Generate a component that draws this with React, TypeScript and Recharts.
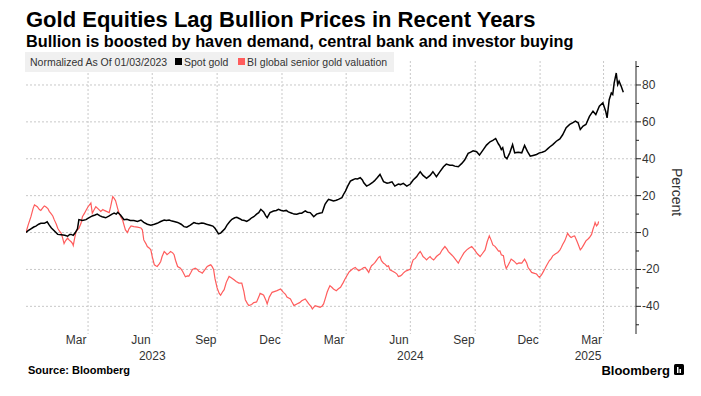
import React from 'react';
import { LineChart, Line, XAxis, YAxis, CartesianGrid } from 'recharts';

const FONT = '"Liberation Sans", Arial, sans-serif';

// days since 2023-01-03 (normalisation date)
const goldDays = [0,3,7,11,14,18,21,26,30,33,36,40,45,50,55,59,62,64,67,70,73,75,80,85,89,94,98,101,105,108,113,118,122,125,128,130,134,139,143,148,153,158,163,167,172,177,182,186,191,196,199,203,207,210,215,220,224,228,233,238,241,245,249,252,256,261,265,268,271,273,276,278,282,285,289,292,296,299,303,306,310,313,317,320,323,327,330,333,337,340,342,346,351,355,358,362,365,369,372,377,380,384,388,391,396,399,403,406,408,412,416,420,422,424,427,429,433,436,440,443,448,450,453,456,460,463,467,470,474,477,479,483,487,491,494,498,502,504,507,512,515,519,523,528,531,535,540,545,549,554,559,563,568,573,577,582,587,592,596,601,605,608,613,618,622,627,630,634,639,643,648,653,658,662,666,670,672,674,676,679,682,686,690,693,698,703,707,711,715,719,724,728,732,736,740,743,747,752,757,761,766,771,775,779,783,786,790,794,799,804,808,813,818,822,824,827,830,832,834,837,839,841,844,847];
const goldPct = [0,1,2,3,3.5,4.5,5,5,5.8,4,2.5,1,-1,-1.2,-1.5,-2,-1,-1,-1.5,0,2,7,6.5,7,8,9,9.5,10,9,8.6,8,9,10,10.5,10,11,9.5,7,7.2,6.5,6.5,6,6.8,5.5,4.5,4,4.5,5,6,6.8,6.5,6.8,6.2,6,5.5,4.5,3.2,2.9,4,5.4,5,4.8,5.2,5,4.5,4,3.5,2.3,0.5,-0.7,-0.3,0.5,2,4,6,7.2,8,8.3,7.5,6.8,6.5,6,7,8,8.6,10,10.8,12.6,11.2,9,8.1,10.8,11.7,12,12.6,12,11.7,12,11.2,10.5,10,9.9,10.5,10.5,11.7,11,10.8,9.5,8.6,10,10.5,10.8,13,15.3,17,18,17.5,17.1,17.5,18,18.9,20.5,22.5,25,27.9,28.5,29.2,29,29.7,28.5,27,25.2,26,27,28,29.7,31.5,30,27.6,26.7,27,27.5,25.2,26.3,26,26.7,25.2,26.3,28.5,30.3,33,31,29.4,31,33,30.3,33,35.7,37.1,36.5,36.5,36,35.7,37.5,39.3,42.9,43.5,44.3,43.8,42,44.7,47.4,49.2,50,51,48,46.8,45,46,41,40,43.2,47.7,43.2,43.5,43.2,47.2,44,41.4,41.8,42.3,43.2,43.5,44.1,45.5,46.5,47.7,49.5,50.8,53,56.8,58.6,59.5,60.4,59.5,55.9,57.7,58.6,63,65.8,64,68.5,70.3,65.8,62.2,72,75.7,74.8,81,86.5,80.2,82,79.3,76];

const minersDays = [0,3,7,10,12,14,16,19,21,24,26,28,31,33,35,38,40,43,45,47,50,52,54,56,59,61,64,66,67,69,71,73,75,78,80,83,85,88,92,94,96,99,102,106,109,111,114,118,120,123,125,127,130,132,135,137,139,141,144,146,149,153,158,163,165,167,170,172,175,177,179,182,184,186,189,191,193,196,198,200,203,205,208,210,212,215,219,222,226,229,231,234,236,240,243,245,248,250,254,257,260,262,264,266,268,271,274,276,279,281,284,288,291,295,298,302,306,309,311,314,316,320,323,327,330,332,335,337,340,342,345,349,352,356,361,365,368,370,375,377,380,384,388,391,396,398,401,404,406,410,413,417,420,422,425,427,429,431,434,436,440,443,446,450,452,455,458,460,464,467,469,472,476,479,481,483,486,488,490,493,495,498,500,502,504,507,509,512,514,516,520,523,526,528,531,533,535,538,541,545,547,549,552,554,556,559,561,563,566,568,570,573,575,578,580,582,585,587,590,594,597,599,602,606,609,613,615,618,621,625,628,632,634,636,640,644,647,651,654,657,660,662,665,667,670,672,674,677,679,681,684,686,688,692,696,699,703,707,710,712,715,717,720,724,726,728,731,733,736,738,742,745,747,751,754,757,759,761,764,766,768,771,773,776,778,781,783,786,788,790,794,797,799,802,804,806,807,809,811,812];
const minersPct = [0,4,8.6,13,15,14.5,14,12.5,12,13.5,14.4,14,13,11.5,10.5,9,7,4.5,2.3,1,-0.4,-3,-6,-4.5,-3,-4,-5,-6,-7,-3,0.5,1.5,2.3,5,8.6,10.5,12,14,16,10.5,12,14,13,11.4,12.5,12,11.5,10.8,14,19.5,18.5,17.3,13,10.5,8,6.8,4,1.4,0,2,3.6,3.2,2.9,2.5,1.5,-4,-6,-7.6,-8.5,-9.4,-13,-17.5,-18,-18.4,-17,-15.7,-13,-10.3,-11,-12,-11,-10.3,-11,-12,-15,-18.4,-19.3,-21,-24,-23.5,-23.6,-21.5,-20,-19.3,-20,-21,-21.5,-22,-20,-18.4,-17.8,-17.5,-18.5,-20,-25,-30,-33,-34,-32,-31,-27,-23.8,-24.5,-25.6,-26.5,-27.4,-27.4,-32,-36.4,-38.5,-39.6,-39,-38,-37.6,-35,-33,-33.5,-34,-36.5,-38.7,-35,-32.4,-32,-31.5,-30.6,-32.4,-33.5,-35,-36,-37.5,-39.6,-38.7,-38,-37,-36,-37,-38.7,-40,-41.4,-39.6,-40,-40.5,-39.8,-38.7,-35,-32.4,-30.5,-28.8,-29.8,-30.6,-31.5,-30.5,-29.7,-27,-25.5,-23.4,-21.5,-20.7,-19.5,-18.9,-19.8,-20.7,-19.8,-19,-18.9,-20,-21.6,-19.5,-18,-17,-16.2,-14.5,-13.5,-13,-15.3,-16.6,-17.1,-18.4,-18,-20.2,-21,-21.6,-22.5,-23.8,-23.5,-22.9,-22,-21,-20.5,-19.8,-17,-14.8,-14,-13,-11.5,-10.3,-11.5,-13,-14,-14.8,-14,-13,-14,-14.8,-14,-13,-12,-11.5,-9.5,-7.6,-9,-10.3,-11.5,-13,-14.5,-16.6,-15,-13,-11,-9.4,-8.5,-7.6,-8.5,-9.4,-11.5,-13,-11.5,-9.4,-5,-1.8,-4.5,-6.7,-7.5,-8.5,-10,-9.9,-12,-12.5,-17,-19.5,-17.5,-16,-14.4,-15.5,-17.1,-16.5,-16.6,-14.4,-16.5,-19,-20.5,-21.6,-22,-22.5,-23.5,-24.3,-23,-21.6,-19.5,-18,-15.3,-14,-12.6,-11.5,-10.8,-9.5,-8.1,-6.5,-4.5,-2.5,-0.4,-2,-2.7,-2,-1.8,-4.5,-6.3,-9.4,-8.5,-7.2,-4.5,-3.5,-2.7,-1,1.8,4,5.4,3.6,4.5,6];

const monthTickDays = [71, 163, 255, 346, 437, 529, 621, 712, 802];
const monthTickLabels = ['Mar', 'Jun', 'Sep', 'Dec', 'Mar', 'Jun', 'Sep', 'Dec', 'Mar'];
const yearTickDays = [179, 545, 797];
const yearTickLabels = ['2023', '2024', '2025'];
const quarterStartDays = [88, 179, 271, 363, 454, 545, 637, 729, 819];
const yTicks = [-50, -40, -30, -20, -10, 0, 10, 20, 30, 40, 50, 60, 70, 80, 90];
const yLabelledTicks = [-40, -20, 0, 20, 40, 60, 80];

const goldData = goldDays.map((d, i) => ({ d, v: goldPct[i] }));
const minersData = minersDays.map((d, i) => ({ d, v: minersPct[i] }));

const YTick = (props: any) => {
  const { x, y, payload } = props;
  const major = yLabelledTicks.includes(payload.value);
  return (
    <g>
      <line x1={x} x2={x + (major ? 5 : 3)} y1={y} y2={y} stroke="#222" strokeWidth={1} />
      {major && (
        <text x={x + 6} y={y + 4} fontSize={12} fill="#333" fontFamily={FONT}>
          {payload.value}
        </text>
      )}
    </g>
  );
};

const MonthTick = (props: any) => {
  const { x, y, payload } = props;
  const label = monthTickLabels[monthTickDays.indexOf(payload.value)];
  return (
    <text x={x} y={y + 10} textAnchor="middle" fontSize={12} fill="#333" fontFamily={FONT}>
      {label}
    </text>
  );
};

const YearTick = (props: any) => {
  const { x, y, payload } = props;
  const label = yearTickLabels[yearTickDays.indexOf(payload.value)];
  return (
    <text x={x} y={y + 12} textAnchor="middle" fontSize={12} fill="#333" fontFamily={FONT}>
      {label}
    </text>
  );
};

export default function App() {
  return (
    <div style={{ position: 'fixed', left: 0, top: 0, width: 701, height: 396, background: '#fff', overflow: 'hidden' }}>
      <LineChart width={701} height={396} margin={{ top: 61, right: 0, bottom: 28, left: 26 }}>
        <CartesianGrid
          stroke="#c8c8c8"
          strokeDasharray="2 2"
          horizontalValues={yLabelledTicks}
          verticalValues={quarterStartDays}
        />
        <XAxis
          dataKey="d"
          type="number"
          domain={[0, 865]}
          allowDataOverflow
          ticks={monthTickDays}
          interval={0}
          axisLine={false}
          tickLine={false}
          tickSize={0}
          tickMargin={0}
          height={14}
          tick={<MonthTick />}
        />
        <XAxis
          xAxisId="year"
          dataKey="d"
          type="number"
          domain={[0, 865]}
          allowDataOverflow
          ticks={yearTickDays}
          interval={0}
          axisLine={false}
          tickLine={false}
          tickSize={0}
          tickMargin={0}
          height={20}
          tick={<YearTick />}
        />
        <YAxis
          orientation="right"
          type="number"
          domain={[-55, 93]}
          allowDataOverflow
          ticks={yTicks}
          interval={0}
          width={65}
          axisLine={{ stroke: '#222', strokeWidth: 1 }}
          tickLine={false}
          tickSize={0}
          tickMargin={0}
          tick={<YTick />}
        />
        <Line data={minersData} dataKey="v" type="linear" stroke="#ff5c5c" strokeWidth={1.2} dot={false} isAnimationActive={false} />
        <Line data={goldData} dataKey="v" type="linear" stroke="#000" strokeWidth={1.5} dot={false} isAnimationActive={false} />
      </LineChart>
      <svg width={701} height={396} style={{ position: 'absolute', left: 0, top: 0, pointerEvents: 'none' }} fontFamily={FONT}>
        <text x={26} y={26.5} fontSize={22} fontWeight="bold" fill="#000">Gold Equities Lag Bullion Prices in Recent Years</text>
        <text x={26} y={46.5} fontSize={16.3} fontWeight="bold" fill="#000">Bullion is boosted by haven demand, central bank and investor buying</text>
        <rect x={25} y={52} width={369} height={20} fill="#f0f0f0" />
        <text x={30} y={66} fontSize={10.5} fill="#333">Normalized As Of 01/03/2023</text>
        <rect x={175} y={58} width={7} height={7} fill="#000" />
        <text x={184} y={66} fontSize={10.5} fill="#333">Spot gold</text>
        <rect x={238} y={58} width={7} height={7} fill="#ff5c5c" />
        <text x={247} y={66} fontSize={10.5} fill="#333">BI global senior gold valuation</text>
        <text x={677} y={192} fontSize={14} fill="#333" textAnchor="middle" transform="rotate(90 677 192)" dominantBaseline="central">Percent</text>
        <text x={28} y={374} fontSize={11} fontWeight="bold" fill="#000">Source: Bloomberg</text>
        <text x={670} y={375} fontSize={13} fontWeight="bold" fill="#000" textAnchor="end">Bloomberg</text>
        <rect x={674} y={364} width={10} height={11} rx={1.5} fill="#000" />
        <rect x={677} y={367} width={1.5} height={6} fill="#fff" />
        <rect x={679.5} y={369} width={1.5} height={4} fill="#fff" />
      </svg>
    </div>
  );
}
